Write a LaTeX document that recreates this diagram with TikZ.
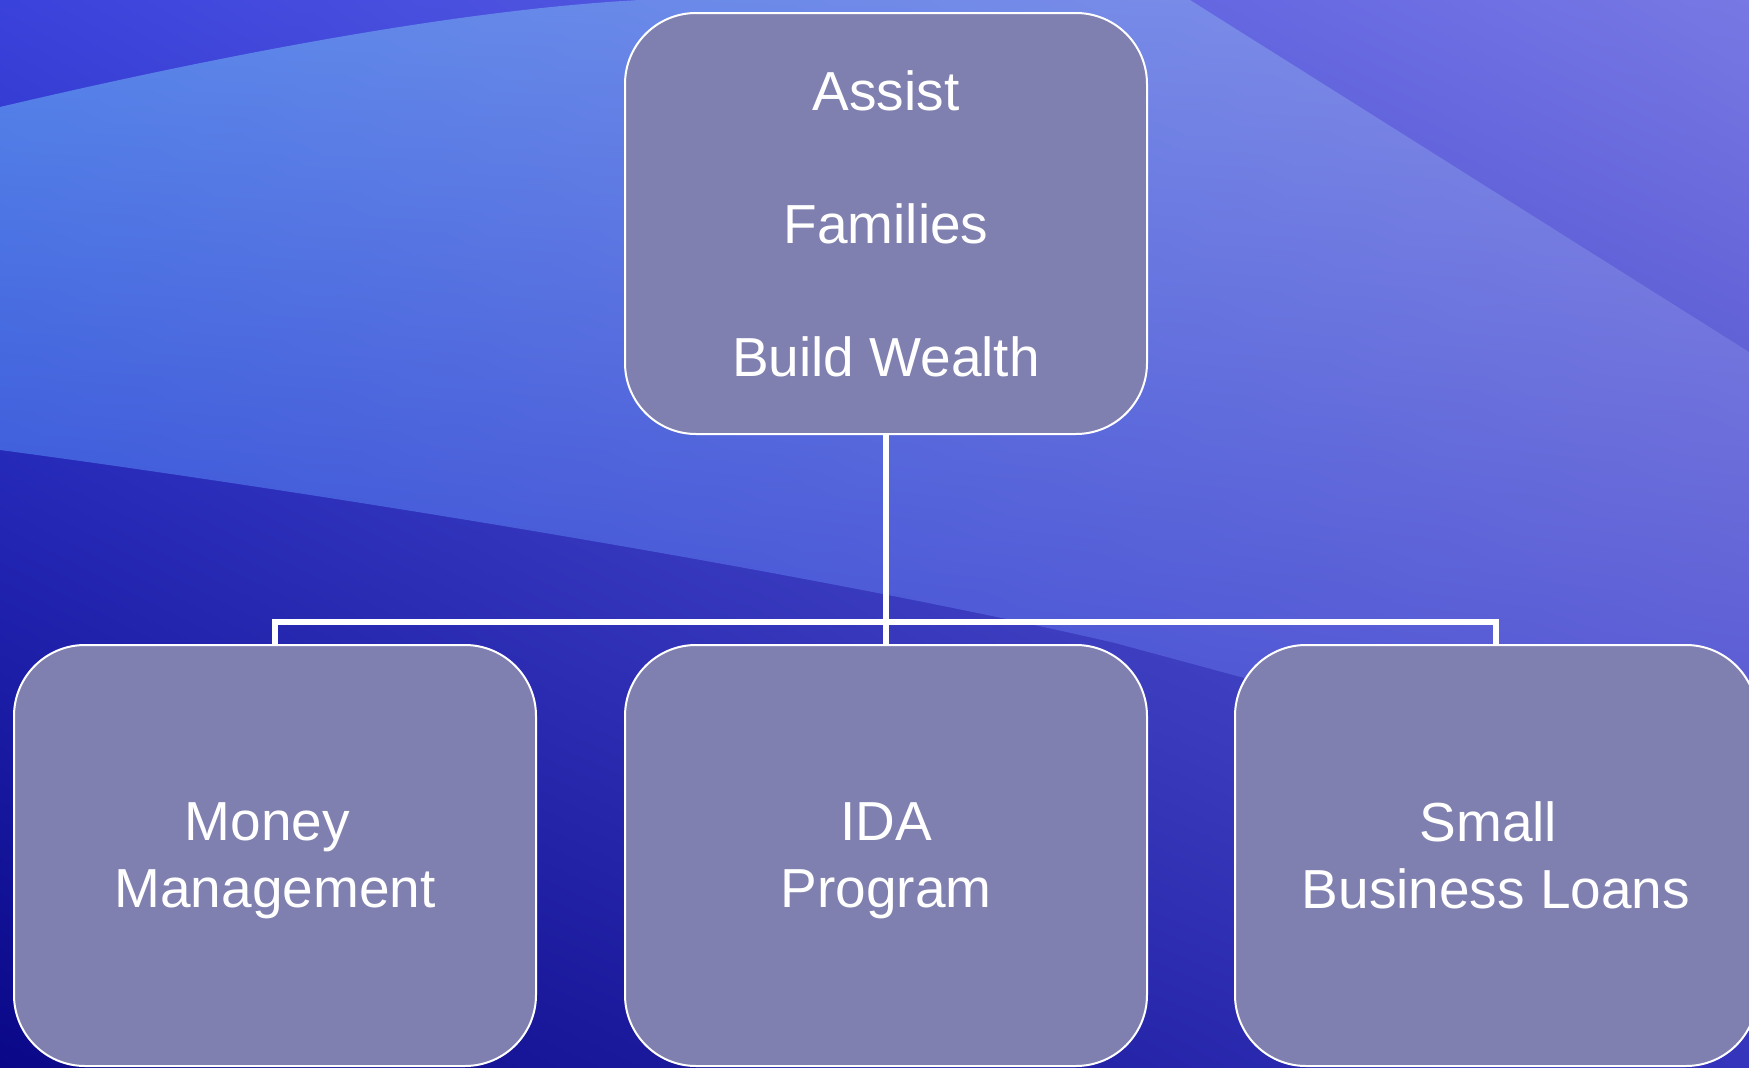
\documentclass[tikz,border=0pt]{standalone}
\usepackage{fontspec}
\setmainfont{Liberation Sans}
\usetikzlibrary{shadings}
\definecolor{boxfill}{RGB}{128,128,176}
\definecolor{bgUL}{RGB}{58,66,220}
\definecolor{bgUR}{RGB}{120,120,228}
\definecolor{bgLL}{RGB}{10,8,136}
\definecolor{bgLR}{RGB}{52,52,188}
\definecolor{bandUL}{RGB}{88,136,234}
\definecolor{bandUR}{RGB}{136,140,230}
\definecolor{bandLL}{RGB}{44,60,208}
\definecolor{bandLR}{RGB}{82,82,208}
\tikzset{
  orgbox/.style={draw=white, line width=2pt, fill=boxfill, rounded corners=71pt,
    minimum width=522pt, minimum height=421pt, inner sep=0pt, text=white,
    align=center, text depth=-4pt, font=\fontsize{55}{133}\selectfont},
  lowbox/.style={orgbox, text depth=-6pt, font=\fontsize{55}{67}\selectfont},
  conn/.style={draw=white, line width=5.5pt, line join=miter},
}
\begin{document}
\begin{tikzpicture}[x=1pt, y=-1pt]
\useasboundingbox (0,0) rectangle (1749,1068);
% background
\shade[upper left=bgUL, upper right=bgUR, lower left=bgLL, lower right=bgLR]
  (0,0) rectangle (1749,1068);
\begin{scope}
  \clip (0,107) .. controls (200,60) and (450,10) .. (640,0) -- (1190,0) -- (1749,352)
    -- (1749,820) .. controls (1400,720) .. (1115,643)
    .. controls (800,570) and (300,490) .. (0,450) -- cycle;
  \shade[upper left=bandUL, upper right=bandUR, lower left=bandLL, lower right=bandLR]
    (0,0) rectangle (1749,850);
\end{scope}
% boxes
\node[orgbox] (top) at (886,223.5) {Assist\\Families\hspace*{0.45em}\\Build Wealth};
\node[lowbox] (left) at (275,855.5) {Money\hspace*{0.278em}\\Management};
\node[lowbox] (mid) at (886,855.5) {IDA\\Program};
\node[lowbox] (right) at (1496,855.5) {Small\hspace*{0.278em}\\Business Loans};
% connectors
\coordinate (bar) at (886,622);
\draw[conn] (top.south) -- (mid.north);
\draw[conn] (left.north) |- (bar) -| (right.north);
\end{tikzpicture}
\end{document}
